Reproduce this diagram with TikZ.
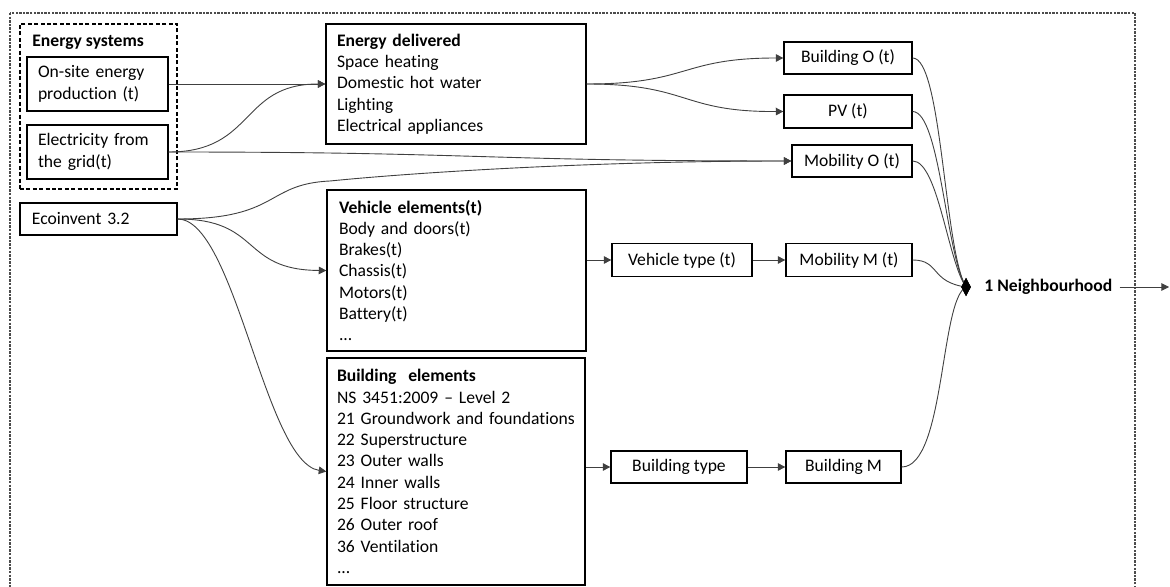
\documentclass[tikz,border=0pt]{standalone}
\usepackage{fontspec}
\setmainfont{Carlito}[Ligatures={NoCommon}]
\usetikzlibrary{arrows.meta,shapes.geometric}
\begin{document}
\begin{tikzpicture}[x=0.5pt,y=-0.5pt,
  every node/.style={font=\fontsize{8.8}{10.65}\selectfont},
  box/.style={draw=black, line width=0.65pt, inner ysep=0pt, align=left},
  sbox/.style={draw=black, line width=0.65pt, inner sep=0pt, align=center},
  conn/.style={draw=black!75, line width=0.45pt},
  arr/.style={conn, -{Triangle[length=3.8pt,width=3.8pt]}},
  outerdash/.style={draw=black!70, line width=0.6pt, dash pattern=on 1.2pt off 0.6pt},
  esdash/.style={draw=black, line width=0.6pt, dash pattern=on 2pt off 1.2pt}
]
\useasboundingbox (0,0) rectangle (1170,587);
\draw[outerdash] (10,13) rectangle (1135,620);

% Energy systems group
\node[esdash, minimum width=78.5pt, minimum height=82.5pt, inner sep=0pt] (es) at (98.5,106.5) {};
\node[anchor=west, inner sep=0pt, font=\fontsize{8.8}{10.65}\selectfont\bfseries] (estitle) at (32,42) {Energy systems};
\node[box, inner xsep=5.5pt, text width=59.5pt, minimum height=27pt] (onsite) at (97.5,84) {On-site energy\\production (t)};
\node[box, inner xsep=5.5pt, text width=59.5pt, minimum height=27pt] (grid) at (97.5,152) {Electricity from\\the grid(t)};
\node[box, inner xsep=6pt, text width=66.5pt, minimum height=16pt] (eco) at (98.5,219) {Ecoinvent 3.2};

% Middle column
\node[box, inner xsep=5.5pt, text width=119pt, minimum height=60pt] (ed) at (456,84)
  {\textbf{Energy delivered}\\Space heating\\Domestic hot water\\Lighting\\Electrical appliances};
\node[box, inner xsep=6pt, text width=117.5pt, minimum height=80.5pt] (ve) at (456.5,270.5)
  {\textbf{Vehicle elements(t)}\\Body and doors(t)\\Brakes(t)\\Chassis(t)\\Motors(t)\\Battery(t)\\...};
\node[box, inner xsep=5pt, text width=119pt, minimum height=113.5pt] (be) at (456,471.5)
  {\textbf{Building\ \ elements}\\NS 3451:2009 -- Level 2\\\mbox{21 Groundwork and foundations}\\22 Superstructure\\23 Outer walls\\24 Inner walls\\25 Floor structure\\26 Outer roof\\36 Ventilation\\...};

% Right column
\node[sbox, minimum width=64pt, minimum height=16pt] (bo) at (848,58) {Building O (t)};
\node[sbox, minimum width=64pt, minimum height=16.5pt] (pv) at (848,111.5) {PV (t)};
\node[sbox, minimum width=60pt, minimum height=16pt] (mo) at (852,161) {Mobility O (t)};
\node[sbox, minimum width=70pt, minimum height=16.5pt] (vt) at (682,260) {Vehicle type (t)};
\node[sbox, minimum width=63pt, minimum height=16.5pt] (mm) at (849,260) {Mobility M (t)};
\node[sbox, minimum width=68pt, minimum height=16pt] (bt) at (679,467) {Building type};
\node[sbox, minimum width=57.5pt, minimum height=16pt] (bm) at (843.5,467) {Building M};

% Neighbourhood
\node[diamond, fill=black, draw=black, inner sep=0pt, minimum width=4.5pt, minimum height=8.5pt] (d) at (966,287) {};
\node[anchor=west, inner xsep=3.5pt, inner ysep=0pt, font=\fontsize{8.8}{10.65}\selectfont\bfseries] (nb) at (977,287) {1 Neighbourhood};
\coordinate (out) at (1169,287);

% Connectors
\draw[arr] (onsite.east) -- (ed.west);
\draw[arr] (grid.east) .. controls (255,152) and (240,84) .. (ed.west);
\draw[arr] (grid.east) .. controls (480,152) and (480,161) .. (mo.west);
\draw[arr] (eco.east) .. controls (280,219) and (265,184) .. (330,181) .. controls (420,172) and (600,161) .. (mo.west);
\draw[arr] (eco.east) .. controls (262,219) and (240,270) .. (ve.west);
\draw[arr] (eco.east) .. controls (235,219) and (265,462) .. (be.west);
\draw[arr] (ed.east) .. controls (690,84) and (680,58) .. (bo.west);
\draw[arr] (ed.east) .. controls (690,84) and (680,112) .. (pv.west);
\draw[arr] (vt.west -| ve.east) -- (vt.west);
\draw[arr] (vt.east) -- (mm.west);
\draw[arr] (bt.west -| be.east) -- (bt.west);
\draw[arr] (bt.east) -- (bm.west);

\draw[conn] (bo.east) .. controls (942,58) and (944,250) .. (d.center);
\draw[conn] (pv.east) .. controls (940,112) and (946,255) .. (d.center);
\draw[conn] (mo.east) .. controls (938,161) and (948,262) .. (d.center);
\draw[conn] (mm.east) .. controls (940,260) and (930,282) .. (d.center);
\draw[conn] (bm.east) .. controls (945,467) and (940,300) .. (d.center);
\node[diamond, fill=black, draw=black, inner sep=0pt, minimum width=4.5pt, minimum height=8.5pt] at (d) {};
\draw[arr] (nb.east) -- (out);
\end{tikzpicture}
\end{document}
